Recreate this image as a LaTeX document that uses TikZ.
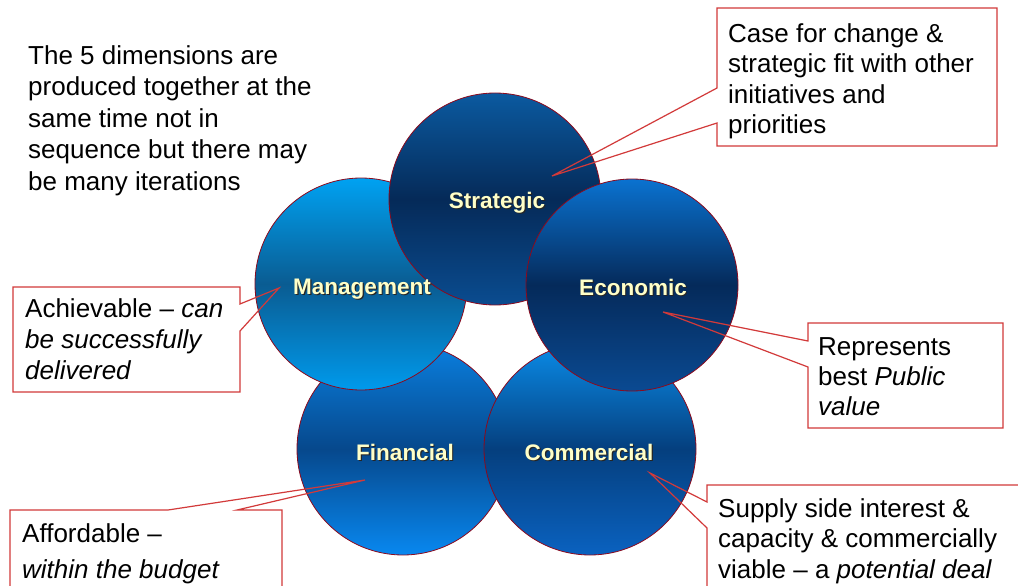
\documentclass[tikz,border=0pt]{standalone}
\usepackage{fontspec}
\setmainfont{Liberation Sans}
\definecolor{calloutred}{HTML}{D23A3A}
\definecolor{rimred}{HTML}{8B0A1E}
\definecolor{labelyellow}{HTML}{FFFFC8}
\tikzset{
  body/.style={font=\fontsize{26}{31}\selectfont, align=left, anchor=base west, inner sep=0pt},
  callout/.style={draw=calloutred, line width=1.2pt, line join=miter},
  dim/.style={circle, minimum size=212pt, inner sep=0pt, draw=rimred, line width=0.8pt},
  dimlabel/.style={font=\fontsize{22.5}{27}\selectfont\bfseries, text=labelyellow, inner sep=0pt, anchor=base},
  dimshadow/.style={font=\fontsize{22.5}{27}\selectfont\bfseries, text=black!85, inner sep=0pt, anchor=base},
}
\begin{document}
\begin{tikzpicture}[x=1pt,y=-1pt]
\useasboundingbox (0,0) rectangle (1018,586);
\clip (0,0) rectangle (1018,586);
\fill[white] (0,0) rectangle (1018,586);

% circles (drawing order matters)
\node[dim, top color={rgb,255:red,10;green,128;blue,224}, bottom color={rgb,255:red,8;green,136;blue,240}, middle color={rgb,255:red,6;green,72;blue,140}] (fin) at (403,449) {};
\node[dim, top color={rgb,255:red,10;green,140;blue,232}, bottom color={rgb,255:red,10;green,98;blue,192}, middle color={rgb,255:red,5;green,63;blue,126}] (com) at (590,449) {};
\node[dim, top color={rgb,255:red,0;green,162;blue,242}, bottom color={rgb,255:red,0;green,154;blue,236}, middle color={rgb,255:red,10;green,92;blue,146}] (man) at (361,284) {};
\node[dim, top color={rgb,255:red,11;green,90;blue,160}, bottom color={rgb,255:red,10;green,76;blue,144}, middle color={rgb,255:red,5;green,42;blue,88}] (str) at (495,199) {};
\node[dim, top color={rgb,255:red,10;green,114;blue,208}, bottom color={rgb,255:red,10;green,74;blue,146}, middle color={rgb,255:red,5;green,42;blue,90}] (eco) at (632,285) {};

% labels (shadow, then text)
\node[dimshadow] (finS) at (406.2,461.2) {Financial};
\node[dimlabel] (finL) at (405,460) {Financial};
\node[dimshadow] (comS) at (590.2,461.2) {Commercial};
\node[dimlabel] (comL) at (589,460) {Commercial};
\node[dimshadow] (manS) at (363.2,295.2) {Management};
\node[dimlabel] (manL) at (362,294) {Management};
\node[dimshadow] (strS) at (498.2,209.2) {Strategic};
\node[dimlabel] (strL) at (497,208) {Strategic};
\node[dimshadow] (ecoS) at (634.2,296.2) {Economic};
\node[dimlabel] (ecoL) at (633,295) {Economic};

% callout tips
\coordinate (tipS) at (552,176);
\coordinate (tipM) at (279,288);
\coordinate (tipE) at (663,312);
\coordinate (tipF) at (365,480);
\coordinate (tipC) at (650,473);

% callouts
\draw[callout] (717,8) -- (997,8) -- (997,146) -- (717,146) -- (717,123) -- (tipS) -- (717,88) -- cycle;
\draw[callout] (13,287) -- (240,287) -- (240,304) -- (tipM) -- (240,331) -- (240,392) -- (13,392) -- cycle;
\draw[callout] (808,323) -- (1003,323) -- (1003,428) -- (808,428) -- (808,367) -- (tipE) -- (808,341) -- cycle;
\draw[callout] (10,600) -- (10,510) -- (168,510) -- (tipF) -- (237,510) -- (282,510) -- (282,600);
\draw[callout] (707,600) -- (707,528) -- (tipC) -- (707,502) -- (707,485) -- (1030,485);

% texts (base anchor = baseline of the last line)
\node[body, font=\fontsize{26}{31.5}\selectfont] (intro) at (28,190) {The 5 dimensions are\\produced together at the\\same time not in\\sequence but there may\\be many iterations};
\node[body, font=\fontsize{26}{30.5}\selectfont] (t1) at (728,133.5) {Case for change \&\\strategic fit with other\\initiatives and\\priorities};
\node[body] (t2) at (25,379) {Achievable -- \textit{can}\\\textit{be successfully}\\\textit{delivered}};
\node[body, font=\fontsize{26}{30}\selectfont] (t3) at (818,415) {Represents\\best \textit{Public}\\\textit{value}};
\node[body] (t4) at (22,578) {Affordable --\\[5pt]\textit{within the budget}};
\node[body, font=\fontsize{26}{30.5}\selectfont] (t5) at (718,578) {Supply side interest \&\\capacity \& commercially\\viable -- a \textit{potential deal}};
\end{tikzpicture}
\end{document}
